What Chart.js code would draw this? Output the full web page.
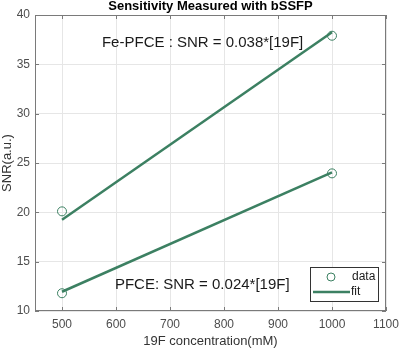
<!DOCTYPE html>
<html>
<head>
<meta charset="utf-8">
<script src="https://cdn.jsdelivr.net/npm/chart.js@4/dist/chart.umd.min.js"></script>
<style>
  html, body { margin: 0; padding: 0; background: #fff; }
  #wrap { width: 400px; height: 349px; }
</style>
</head>
<body>
<div id="wrap"><canvas id="myChart" width="400" height="349"></canvas></div>
<script>
// values
const conc = [500, 1000];
const fePfceData = [20.1, 37.9];
const pfceData = [11.8, 23.95];
const fePfceFit = [19.25, 38.25];
const pfceFit = [11.95, 24.05];

const xTicks = [500, 600, 700, 800, 900, 1000, 1100];
const yTicks = [10, 15, 20, 25, 30, 35, 40];

const titleText = "Sensitivity Measured with bSSFP";
const xTitle = "19F concentration(mM)";
const yTitle = "SNR(a.u.)";
const labelTexts = ["Fe-PFCE : SNR = 0.038*[19F]", "PFCE: SNR = 0.024*[19F]"];
const labelX = [574, 598];
const labelY = [37.15, 12.7];
const legendNames = ["data", "fit"];

const GREEN = "rgb(60,128,98)";
const FONT = "'Liberation Sans', Arial, sans-serif";

function pts(xs, ys) {
    return xs.map((x, i) => ({ x: x, y: ys[i] }));
}

const extras = {
    id: 'extras',
    afterDraw(chart) {
        const ctx = chart.ctx;
        const a = chart.chartArea;
        const xs = chart.scales.x, ys = chart.scales.y;
        ctx.save();

        // box and inward ticks
        ctx.strokeStyle = "#7a7a7a";
        ctx.lineWidth = 1;
        ctx.strokeRect(Math.round(a.left) + 0.5, Math.round(a.top) + 0.5,
            Math.round(a.right - a.left) - 1, Math.round(a.bottom - a.top) - 1);
        ctx.beginPath();
        xTicks.forEach(v => {
            const px = Math.round(xs.getPixelForValue(v)) + 0.5;
            ctx.moveTo(px, a.bottom); ctx.lineTo(px, a.bottom - 4);
            ctx.moveTo(px, a.top); ctx.lineTo(px, a.top + 4);
        });
        yTicks.forEach(v => {
            const py = Math.round(ys.getPixelForValue(v)) + 0.5;
            ctx.moveTo(a.left, py); ctx.lineTo(a.left + 4, py);
            ctx.moveTo(a.right, py); ctx.lineTo(a.right - 4, py);
        });
        ctx.stroke();

        // title
        ctx.fillStyle = "#000";
        ctx.font = "bold 13px " + FONT;
        ctx.textAlign = "center";
        ctx.textBaseline = "bottom";
        ctx.fillText(titleText, (a.left + a.right) / 2, a.top - 2);

        // fit labels
        ctx.fillStyle = "#1a1a1a";
        ctx.font = "15px " + FONT;
        ctx.textAlign = "left";
        ctx.textBaseline = "middle";
        labelTexts.forEach((t, i) => {
            ctx.fillText(t, xs.getPixelForValue(labelX[i]), ys.getPixelForValue(labelY[i]));
        });

        // legend
        const lx = a.right - 76, ly = a.bottom - 44, lw = 68, lh = 34;
        ctx.fillStyle = "#fff";
        ctx.fillRect(lx, ly, lw, lh);
        ctx.strokeStyle = "#333";
        ctx.lineWidth = 1;
        ctx.strokeRect(lx + 0.5, ly + 0.5, lw, lh);
        ctx.strokeStyle = GREEN;
        ctx.beginPath();
        ctx.arc(lx + 21, ly + 10, 4, 0, Math.PI * 2);
        ctx.stroke();
        ctx.lineWidth = 2.5;
        ctx.beginPath();
        ctx.moveTo(lx + 3, ly + 25); ctx.lineTo(lx + 40, ly + 25);
        ctx.stroke();
        ctx.fillStyle = "#1a1a1a";
        ctx.font = "12px " + FONT;
        ctx.fillText(legendNames[0], lx + 42, ly + 10);
        ctx.fillText(legendNames[1], lx + 41, ly + 25);

        ctx.restore();
    }
};

const ctx = document.getElementById('myChart').getContext('2d');
const myChart = new Chart(ctx, {
    type: 'scatter',
    data: {
        datasets: [
            { label: 'fit', data: pts(conc, fePfceFit), showLine: true, borderColor: GREEN, borderWidth: 2.5, pointRadius: 0 },
            { label: 'fit', data: pts(conc, pfceFit), showLine: true, borderColor: GREEN, borderWidth: 2.5, pointRadius: 0 },
            { label: 'data', data: pts(conc, fePfceData), showLine: false, borderColor: GREEN, backgroundColor: 'rgba(0,0,0,0)', borderWidth: 1, pointRadius: 4.5 },
            { label: 'data', data: pts(conc, pfceData), showLine: false, borderColor: GREEN, backgroundColor: 'rgba(0,0,0,0)', borderWidth: 1, pointRadius: 4.5 }
        ]
    },
    options: {
        responsive: false,
        animation: false,
        layout: { padding: { left: 0, right: 14, top: 15, bottom: 0 } },
        plugins: {
            legend: { display: false },
            tooltip: { enabled: false }
        },
        scales: {
            x: {
                type: 'linear',
                min: 450, max: 1100,
                afterBuildTicks: (s) => { s.ticks = xTicks.map(v => ({ value: v })); },
                afterFit: (s) => { s.height = 38; s.paddingLeft = 0; s.paddingRight = 0; },
                grid: { color: '#e6e6e6', drawTicks: false },
                border: { display: false },
                ticks: { color: '#4d4d4d', font: { family: FONT, size: 12 }, padding: 6, maxRotation: 0, callback: (v) => String(v) },
                title: { display: true, text: xTitle, color: '#333', font: { family: FONT, size: 13 }, padding: { top: 0, bottom: 0 } }
            },
            y: {
                type: 'linear',
                min: 10, max: 40,
                afterBuildTicks: (s) => { s.ticks = yTicks.map(v => ({ value: v })); },
                afterFit: (s) => { s.width = 35; s.paddingTop = 0; s.paddingBottom = 0; },
                grid: { color: '#e6e6e6', drawTicks: false },
                border: { display: false },
                ticks: { color: '#4d4d4d', font: { family: FONT, size: 12 }, padding: 5, callback: (v) => String(v) },
                title: { display: true, text: yTitle, color: '#333', font: { family: FONT, size: 13 }, padding: { top: 0, bottom: 0 } }
            }
        }
    },
    plugins: [extras]
});
</script>
</body>
</html>
